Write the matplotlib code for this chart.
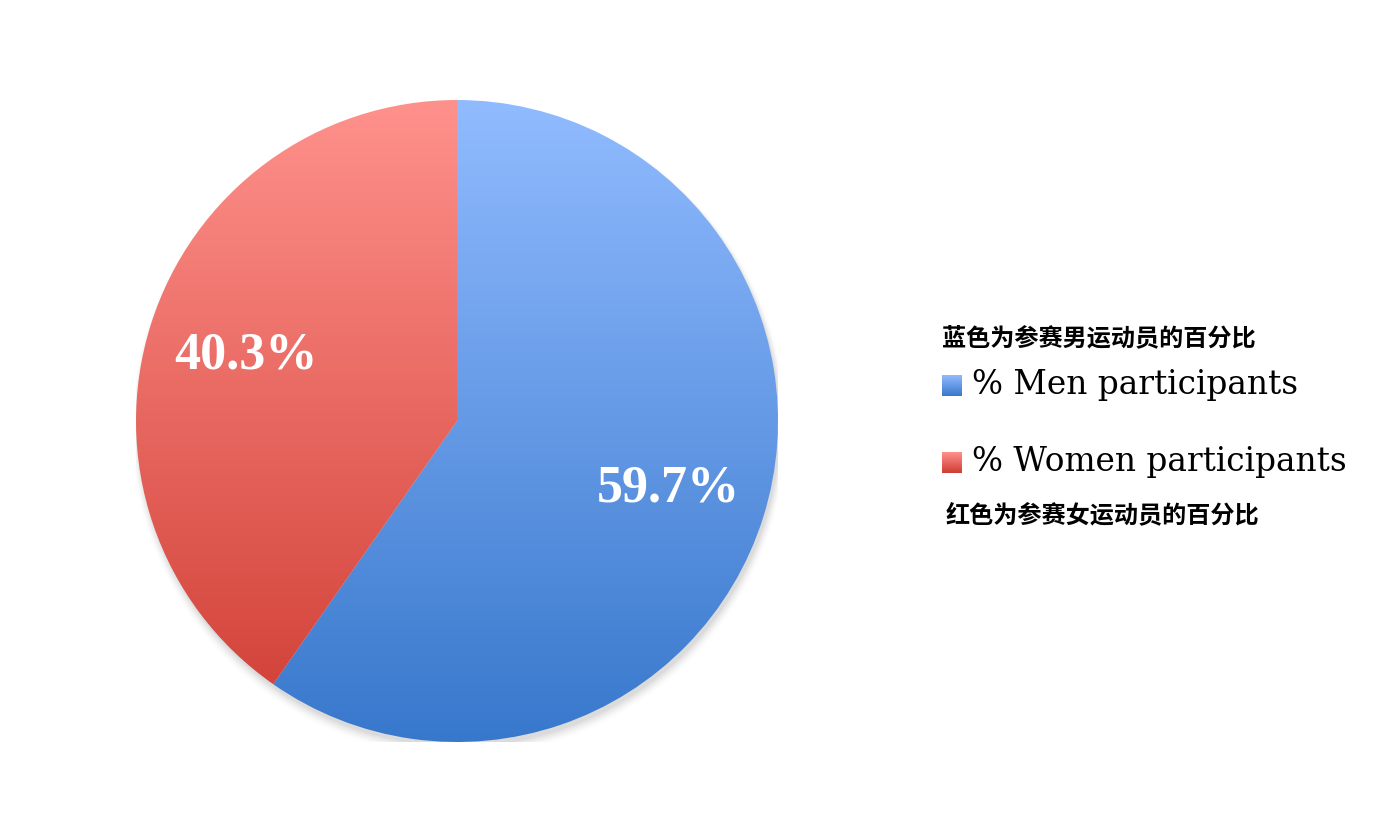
import numpy as np
import matplotlib
matplotlib.use("Agg")
import matplotlib.pyplot as plt
from matplotlib.colors import LinearSegmentedColormap
from matplotlib.patches import Circle

# data
labels = ["% Men participants", "% Women participants"]
shares = [59.7, 40.3]
notes = ["蓝色为参赛男运动员的百分比", "红色为参赛女运动员的百分比"]

# top -> bottom gradient colours for each slice
grad_colors = [("#91bbff", "#3878cc"), ("#ff918c", "#cf3d33")]

fig = plt.figure(figsize=(14, 8.2), dpi=100)
ax = fig.add_axes([136 / 1400, 77 / 820, 642 / 1400, 642 / 820])
ax.set_aspect("equal")
ax.axis("off")

# soft shadow under the pie
for i, a in enumerate(np.linspace(0.06, 0.012, 6)):
    ax.add_patch(Circle((0.006, -0.014 - i * 0.002), 1.0 + i * 0.004,
                        facecolor="#555555", edgecolor="none", alpha=a, zorder=0))

wedges, texts, autotexts = ax.pie(
    shares, startangle=90, counterclock=False, radius=1,
    autopct="%.1f%%", pctdistance=0.69,
    wedgeprops=dict(edgecolor="none", linewidth=0),
    textprops=dict(color="white", fontsize=37.5, fontweight="bold",
                   family="Liberation Serif"))
ax.set_xlim(-1, 1)
ax.set_ylim(-1, 1)

# vertical gradient fill clipped to each wedge (row 0 = top)
grad = np.linspace(1, 0, 256).reshape(-1, 1)
for w, (c_top, c_bot) in zip(wedges, grad_colors):
    cmap = LinearSegmentedColormap.from_list("g", [c_bot, c_top])
    im = ax.imshow(grad, cmap=cmap, extent=[-1, 1, -1, 1], aspect="auto",
                   origin="upper", zorder=1, interpolation="bilinear")
    im.set_clip_path(w)
    w.set_facecolor("none")
for t in autotexts:
    t.set_zorder(5)

# legend area
legend_y = [385, 462]
note_y = [338, 515]
for i, lab in enumerate(labels):
    c_top, c_bot = grad_colors[i]
    y = 1 - legend_y[i] / 820
    sq = fig.add_axes([942 / 1400, y - 12 / 820, 20 / 1400, 21 / 820])
    sq.imshow(np.linspace(0, 1, 64).reshape(-1, 1),
              cmap=LinearSegmentedColormap.from_list("s", [c_top, c_bot]),
              aspect="auto", extent=[0, 1, 0, 1])
    sq.axis("off")
    fig.text(972 / 1400, y, lab, fontsize=23.6, family="DejaVu Serif",
             va="center", ha="left", color="black")

fig.text(942 / 1400, 1 - note_y[0] / 820, notes[0], fontsize=17.4,
         fontweight="bold", family=["Noto Sans CJK SC", "DejaVu Sans"],
         va="center", ha="left", color="black")
fig.text(946 / 1400, 1 - note_y[1] / 820, notes[1], fontsize=17.4,
         fontweight="bold", family=["Noto Sans CJK SC", "DejaVu Sans"],
         va="center", ha="left", color="black")

fig.savefig("out.png", dpi=100, facecolor="white")
